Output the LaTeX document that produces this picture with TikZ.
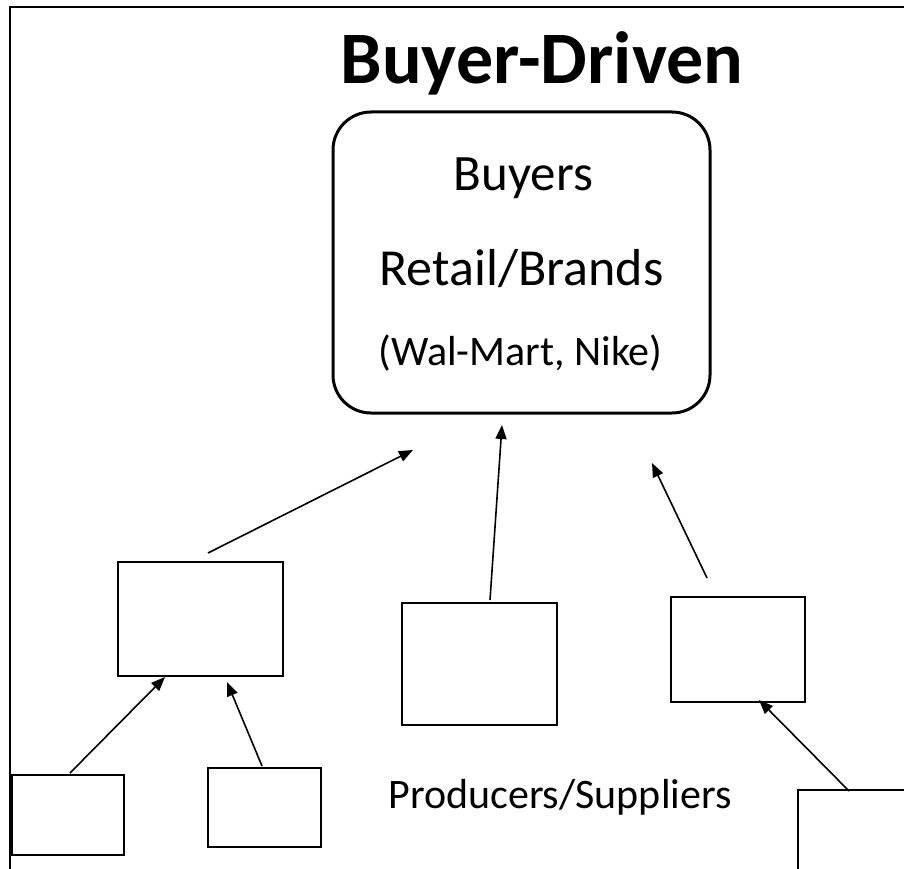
\documentclass[tikz,border=0pt]{standalone}
\usepackage{fontspec}
\setmainfont{Carlito}
\usetikzlibrary{arrows.meta,positioning,calc}

\begin{document}
\begin{tikzpicture}[x=1pt, y=-1pt,
  box/.style={draw, line width=1.6pt, inner sep=0pt, outer sep=0pt},
  feed/.style={line width=1.6pt, -{Triangle[length=14pt,width=11pt]}},
  lbl/.style={anchor=base, inner sep=0pt}]
\useasboundingbox (0,0) rectangle (904,869);
\clip (0,0) rectangle (904,869);

% Frame and title
\draw[line width=1.6pt] (10,869) -- (10,7) -- (904,7);
\node[lbl, font=\fontsize{74}{84}\selectfont\bfseries] (title) at (542,84) {Buyer-Driven};

% Buyers box
\node[draw, line width=3pt, rounded corners=38pt, minimum width=377pt, minimum height=301pt, inner sep=0pt] (buyers) at (521.5,262.5) {};
\node[lbl, font=\fontsize{51}{60}\selectfont] (buy) at (523.5,190) {Buyers};
\node[lbl, font=\fontsize{52}{60}\selectfont] (retail) at (521.5,285) {Retail/Brands};
\node[lbl, font=\fontsize{42}{50}\selectfont] (brands) at (520.5,365) {(Wal-Mart, Nike)};

% Producer boxes
\node[box, minimum width=165pt, minimum height=114pt] (lm) at (200.5,619) {};
\node[box, minimum width=155pt, minimum height=122pt] (mid) at (479.5,664) {};
\node[box, minimum width=134pt, minimum height=105pt] (rt) at (738,649.5) {};
\node[box, minimum width=112pt, minimum height=80pt] (bl) at (68,815) {};
\node[box, minimum width=113pt, minimum height=79pt] (bm) at (264.5,807.5) {};
\node[box, minimum width=122pt, minimum height=90pt] (br) at (859,835) {};
\node[lbl, font=\fontsize{42}{50}\selectfont] (prod) at (560,808) {Producers/Suppliers};

% Arrow tips below the buyers box
\coordinate (tipL) at (413,450);
\coordinate (tipM) at (502,425);
\coordinate (tipR) at (652,463);

% Arrows
\draw[feed] ([shift={(7.5,-9)}]lm.north) -- (tipL);
\draw[feed] ([shift={(10.5,-3)}]mid.north) -- (tipM);
\draw[feed] ([shift={(-31,-19)}]rt.north) -- (tipR);
\draw[feed] ([shift={(2,-2)}]bl.north) -- ([shift={(-35.5,1)}]lm.south);
\draw[feed] ([shift={(-2.5,-2)}]bm.north) -- ([shift={(26.5,6)}]lm.south);
\draw[feed] ([shift={(-10,1)}]br.north) -- ([shift={(21,-2)}]rt.south);
\end{tikzpicture}
\end{document}
